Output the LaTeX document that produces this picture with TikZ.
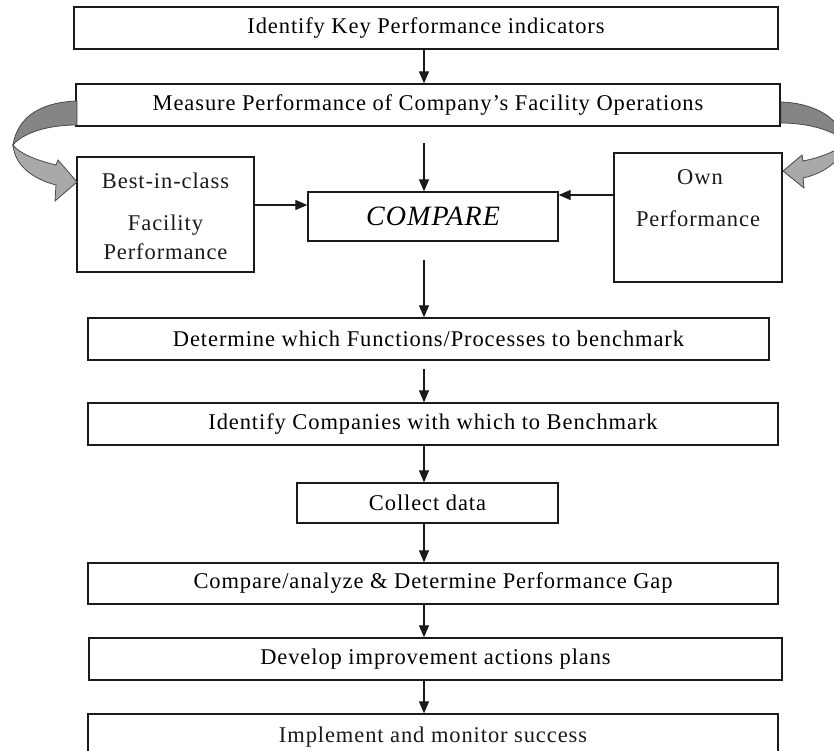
\documentclass[tikz,border=0pt]{standalone}
\usepackage{fontspec}
\setmainfont{Liberation Serif}[LetterSpace=4]
\usetikzlibrary{arrows.meta}
\definecolor{ribbondark}{HTML}{858585}
\definecolor{ribbonlight}{HTML}{A9A9A9}
\definecolor{ink}{HTML}{1A1A1A}
\begin{document}
\begin{tikzpicture}[x=1pt,y=-1pt,
  box/.style={draw=ink,line width=1.3pt,inner sep=0pt,font=\fontsize{22.5}{25}\selectfont},
  lbl/.style={inner sep=0pt,font=\fontsize{22.5}{25}\selectfont,text=ink},
  arr/.style={draw=ink,line width=1.2pt,-{Triangle[length=12pt,width=10pt]}},
  ribbon/.style={draw=ink!80,line width=0.8pt}]
\clip (0,0) rectangle (834,751);
\fill[white] (0,0) rectangle (834,751);

% main column of steps
\node[box,minimum width=704,minimum height=42] (kpi)  at (426,28)    {Identify Key Performance indicators};
\node[box,minimum width=704,minimum height=42] (meas) at (428,105)   {Measure Performance of Company's Facility Operations};
\node[box,minimum width=250,minimum height=49] (cmp)  at (433,216.5) {\fontsize{28}{30}\selectfont\itshape COMPARE};
\node[box,minimum width=681,minimum height=42] (det)  at (428.5,339) {Determine which Functions/Processes to benchmark};
\node[box,minimum width=690,minimum height=42] (idc)  at (433,424)   {Identify Companies with which to Benchmark};
\node[box,minimum width=261,minimum height=40] (col)  at (427.5,503) {Collect data};
\node[box,minimum width=690,minimum height=41] (gap)  at (433,583.5) {Compare/analyze \& Determine Performance Gap};
\node[box,minimum width=693,minimum height=42] (dev)  at (435.5,659) {Develop improvement actions plans};
\node[box,minimum width=690,minimum height=60] (imp)  at (433,744)   {};
\node[lbl] (impt) at (433,737) {Implement and monitor success};

% side boxes
\node[box,minimum width=177,minimum height=115] (best) at (165.5,214.5) {};
\node[lbl] (best1) at (165.5,181) {Best-in-class};
\node[lbl] (best2) at (165.5,225) {Facility};
\node[lbl] (best3) at (165.5,252) {Performance};
\node[box,minimum width=168,minimum height=129] (own) at (698,217.5) {};
\node[lbl] (own1) at (700,177) {Own};
\node[lbl] (own2) at (698,219) {Performance};

% connectors
\coordinate (axis) at (424,0);
\coordinate (m1) at (424,143);
\coordinate (c1) at (424,260);
\coordinate (d1) at (424,369);
\coordinate (hb) at (0,205);
\coordinate (ho) at (0,195);
\draw[arr] (kpi.south -| axis) -- (meas.north -| axis);
\draw[arr] (m1) -- (cmp.north -| m1);
\draw[arr] (best.east |- hb) -- (cmp.west |- hb);
\draw[arr] (own.west |- ho) -- (cmp.east |- ho);
\draw[arr] (c1) -- (det.north -| c1);
\draw[arr] (d1) -- (idc.north -| d1);
\draw[arr] (idc.south -| axis) -- (col.north -| axis);
\draw[arr] (col.south -| axis) -- (gap.north -| axis);
\draw[arr] (gap.south -| axis) -- (dev.north -| axis);
\draw[arr] (dev.south -| axis) -- (imp.north -| axis);

% twisted ribbon arrow on the left
\filldraw[ribbon,fill=ribbondark]
  (77,101) .. controls (45,102) and (18,114) .. (13,145)
  .. controls (22,134) and (45,125) .. (77,125) -- cycle;
\filldraw[ribbon,fill=ribbonlight]
  (13,145) .. controls (15,166) and (33,179) .. (56,185)
  -- (55,201) -- (77,182) -- (58,160) -- (56,165)
  .. controls (35,160) and (19,153) .. (13,145) -- cycle;

% twisted ribbon arrow on the right
\filldraw[ribbon,fill=ribbondark]
  (781,102) .. controls (812,103) and (839,116) .. (846,142)
  .. controls (836,132) and (812,123) .. (781,123) -- cycle;
\filldraw[ribbon,fill=ribbonlight]
  (846,142) .. controls (844,158) and (826,173) .. (803,178)
  -- (804,188) -- (783,171) -- (802,155) -- (803,161)
  .. controls (823,157) and (839,150) .. (846,142) -- cycle;
\end{tikzpicture}
\end{document}
